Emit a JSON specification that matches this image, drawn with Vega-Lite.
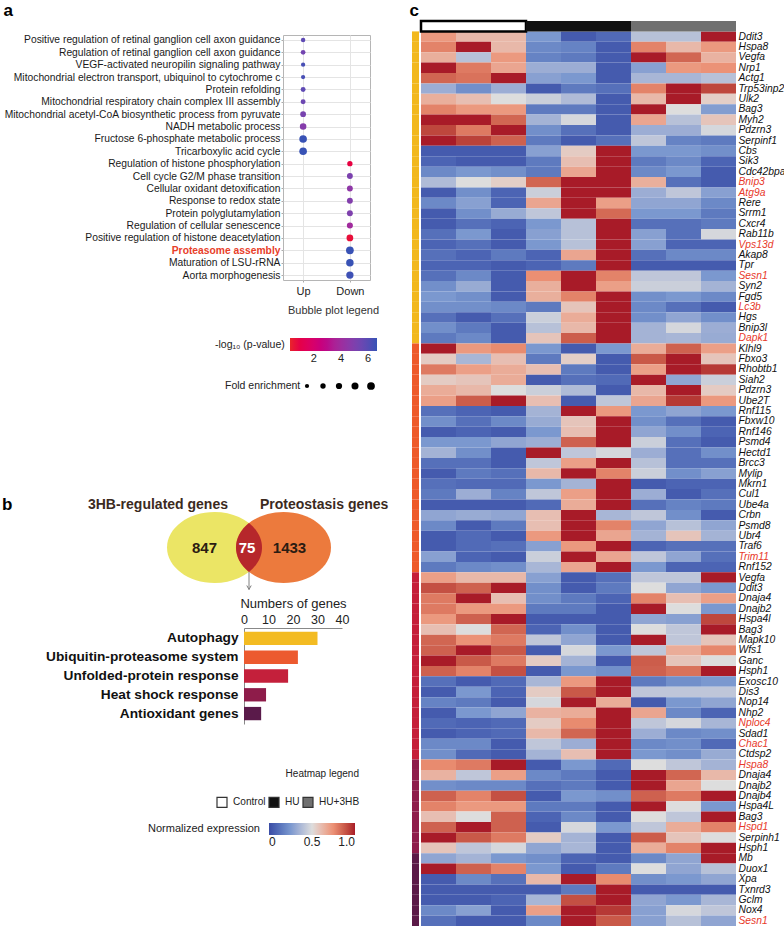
{
"$schema": "https://vega.github.io/schema/vega-lite/v6.json",
"padding": {"left": 2, "top": 0, "right": 0, "bottom": 0},
"autosize": {"type": "pad"},
"background": "white",
"config": {
  "font": "Liberation Sans",
  "view": {"stroke": null},
  "axis": {"labelFont": "Liberation Sans", "titleFont": "Liberation Sans"},
  "legend": {"labelFont": "Liberation Sans", "titleFont": "Liberation Sans"},
  "title": {"font": "Liberation Sans"}
},
"datasets": {
  "bubble": [
    {"term": "Positive regulation of retinal ganglion cell axon guidance", "dir": "Up", "p": 5.8, "fe": 12},
    {"term": "Regulation of retinal ganglion cell axon guidance", "dir": "Up", "p": 5.3, "fe": 14},
    {"term": "VEGF-activated neuropilin signaling pathway", "dir": "Up", "p": 6.3, "fe": 10},
    {"term": "Mitochondrial electron transport, ubiquinol to cytochrome c", "dir": "Up", "p": 6.3, "fe": 10},
    {"term": "Protein refolding", "dir": "Up", "p": 5.8, "fe": 16},
    {"term": "Mitochondrial respiratory chain complex III assembly", "dir": "Up", "p": 5.5, "fe": 16},
    {"term": "Mitochondrial acetyl-CoA biosynthetic process from pyruvate", "dir": "Up", "p": 5.2, "fe": 24},
    {"term": "NADH metabolic process", "dir": "Up", "p": 4.8, "fe": 34},
    {"term": "Fructose 6-phosphate metabolic process", "dir": "Up", "p": 6.6, "fe": 48},
    {"term": "Tricarboxylic acid cycle", "dir": "Up", "p": 6.6, "fe": 48},
    {"term": "Regulation of histone phosphorylation", "dir": "Down", "p": 0.8, "fe": 20},
    {"term": "Cell cycle G2/M phase transition", "dir": "Down", "p": 5.1, "fe": 26},
    {"term": "Cellular oxidant detoxification", "dir": "Down", "p": 4.5, "fe": 26},
    {"term": "Response to redox state", "dir": "Down", "p": 4.9, "fe": 26},
    {"term": "Protein polyglutamylation", "dir": "Down", "p": 5.0, "fe": 26},
    {"term": "Regulation of cellular senescence", "dir": "Down", "p": 3.9, "fe": 28},
    {"term": "Positive regulation of histone deacetylation", "dir": "Down", "p": 0.6, "fe": 36},
    {"term": "Proteasome assembly", "dir": "Down", "p": 6.6, "fe": 50},
    {"term": "Maturation of LSU-rRNA", "dir": "Down", "p": 6.6, "fe": 46},
    {"term": "Aorta morphogenesis", "dir": "Down", "p": 6.5, "fe": 44}
  ],
  "venn": [
    {"set": "A", "n": 847, "name": "3HB-regulated genes"},
    {"set": "AB", "n": 75, "name": ""},
    {"set": "B", "n": 1433, "name": "Proteostasis genes"}
  ],
  "bars": [
    {"cat": "Autophagy", "n": 30},
    {"cat": "Ubiquitin-proteasome system", "n": 22},
    {"cat": "Unfolded-protein response", "n": 18},
    {"cat": "Heat shock response", "n": 9},
    {"cat": "Antioxidant genes", "n": 7}
  ],
  "annot": [
    {"g": "00", "cond": "Control"},
    {"g": "00", "cond": "HU"},
    {"g": "00", "cond": "HU+3HB"}
  ],
  "genes": [
    {"g":"01Ddit3","grp":"Autophagy"},{"g":"02Hspa8","grp":"Autophagy"},{"g":"03Vegfa","grp":"Autophagy"},{"g":"04Nrp1","grp":"Autophagy"},{"g":"05Actg1","grp":"Autophagy"},{"g":"06Trp53inp2","grp":"Autophagy"},{"g":"07Ulk2","grp":"Autophagy"},{"g":"08Bag3","grp":"Autophagy"},{"g":"09Myh2","grp":"Autophagy"},{"g":"10Pdzrn3","grp":"Autophagy"},
    {"g":"11Serpinf1","grp":"Autophagy"},{"g":"12Cbs","grp":"Autophagy"},{"g":"13Sik3","grp":"Autophagy"},{"g":"14Cdc42bpa","grp":"Autophagy"},{"g":"15Bnip3","grp":"Autophagy"},{"g":"16Atg9a","grp":"Autophagy"},{"g":"17Rere","grp":"Autophagy"},{"g":"18Srrm1","grp":"Autophagy"},{"g":"19Cxcr4","grp":"Autophagy"},{"g":"20Rab11b","grp":"Autophagy"},
    {"g":"21Vps13d","grp":"Autophagy"},{"g":"22Akap8","grp":"Autophagy"},{"g":"23Tpr","grp":"Autophagy"},{"g":"24Sesn1","grp":"Autophagy"},{"g":"25Syn2","grp":"Autophagy"},{"g":"26Fgd5","grp":"Autophagy"},{"g":"27Lc3b","grp":"Autophagy"},{"g":"28Hgs","grp":"Autophagy"},{"g":"29Bnip3l","grp":"Autophagy"},{"g":"30Dapk1","grp":"Autophagy"},
    {"g":"31Klhl9","grp":"UPS"},{"g":"32Fbxo3","grp":"UPS"},{"g":"33Rhobtb1","grp":"UPS"},{"g":"34Siah2","grp":"UPS"},{"g":"35Pdzrn3","grp":"UPS"},{"g":"36Ube2T","grp":"UPS"},{"g":"37Rnf115","grp":"UPS"},{"g":"38Fbxw10","grp":"UPS"},{"g":"39Rnf146","grp":"UPS"},{"g":"40Psmd4","grp":"UPS"},
    {"g":"41Hectd1","grp":"UPS"},{"g":"42Brcc3","grp":"UPS"},{"g":"43Mylip","grp":"UPS"},{"g":"44Mkrn1","grp":"UPS"},{"g":"45Cul1","grp":"UPS"},{"g":"46Ube4a","grp":"UPS"},{"g":"47Crbn","grp":"UPS"},{"g":"48Psmd8","grp":"UPS"},{"g":"49Ubr4","grp":"UPS"},{"g":"50Traf6","grp":"UPS"},
    {"g":"51Trim11","grp":"UPS"},{"g":"52Rnf152","grp":"UPS"},{"g":"53Vegfa","grp":"UPR"},{"g":"54Ddit3","grp":"UPR"},{"g":"55Dnaja4","grp":"UPR"},{"g":"56Dnajb2","grp":"UPR"},{"g":"57Hspa4l","grp":"UPR"},{"g":"58Bag3","grp":"UPR"},{"g":"59Mapk10","grp":"UPR"},{"g":"60Wfs1","grp":"UPR"},
    {"g":"61Ganc","grp":"UPR"},{"g":"62Hsph1","grp":"UPR"},{"g":"63Exosc10","grp":"UPR"},{"g":"64Dis3","grp":"UPR"},{"g":"65Nop14","grp":"UPR"},{"g":"66Nhp2","grp":"UPR"},{"g":"67Nploc4","grp":"UPR"},{"g":"68Sdad1","grp":"UPR"},{"g":"69Chac1","grp":"UPR"},{"g":"70Ctdsp2","grp":"UPR"},
    {"g":"71Hspa8","grp":"Heat shock"},{"g":"72Dnaja4","grp":"Heat shock"},{"g":"73Dnajb2","grp":"Heat shock"},{"g":"74Dnajb4","grp":"Heat shock"},{"g":"75Hspa4L","grp":"Heat shock"},{"g":"76Bag3","grp":"Heat shock"},{"g":"77Hspd1","grp":"Heat shock"},{"g":"78Serpinh1","grp":"Heat shock"},{"g":"79Hsph1","grp":"Heat shock"},
    {"g":"80Mb","grp":"Antioxidant"},{"g":"81Duox1","grp":"Antioxidant"},{"g":"82Xpa","grp":"Antioxidant"},{"g":"83Txnrd3","grp":"Antioxidant"},{"g":"84Gclm","grp":"Antioxidant"},{"g":"85Nox4","grp":"Antioxidant"},{"g":"86Sesn1","grp":"Antioxidant"}
  ],
  "cells": [
{"g":"01Ddit3","s":"C1","v":0.72},{"g":"01Ddit3","s":"C2","v":0.62},{"g":"01Ddit3","s":"C3","v":0.62},{"g":"01Ddit3","s":"H1","v":0.25},{"g":"01Ddit3","s":"H2","v":0.05},{"g":"01Ddit3","s":"H3","v":0.1},{"g":"01Ddit3","s":"B1","v":0.4},{"g":"01Ddit3","s":"B2","v":0.4},{"g":"01Ddit3","s":"B3","v":1},
{"g":"02Hspa8","s":"C1","v":0.78},{"g":"02Hspa8","s":"C2","v":1},{"g":"02Hspa8","s":"C3","v":0.62},{"g":"02Hspa8","s":"H1","v":0.2},{"g":"02Hspa8","s":"H2","v":0.18},{"g":"02Hspa8","s":"H3","v":0.05},{"g":"02Hspa8","s":"B1","v":0.78},{"g":"02Hspa8","s":"B2","v":0.62},{"g":"02Hspa8","s":"B3","v":0.72},
{"g":"03Vegfa","s":"C1","v":0.65},{"g":"03Vegfa","s":"C2","v":0.4},{"g":"03Vegfa","s":"C3","v":0.72},{"g":"03Vegfa","s":"H1","v":0.18},{"g":"03Vegfa","s":"H2","v":0.15},{"g":"03Vegfa","s":"H3","v":0.05},{"g":"03Vegfa","s":"B1","v":1},{"g":"03Vegfa","s":"B2","v":0.85},{"g":"03Vegfa","s":"B3","v":0.64},
{"g":"04Nrp1","s":"C1","v":1},{"g":"04Nrp1","s":"C2","v":0.8},{"g":"04Nrp1","s":"C3","v":0.68},{"g":"04Nrp1","s":"H1","v":0.33},{"g":"04Nrp1","s":"H2","v":0.33},{"g":"04Nrp1","s":"H3","v":0.05},{"g":"04Nrp1","s":"B1","v":0.28},{"g":"04Nrp1","s":"B2","v":0.72},{"g":"04Nrp1","s":"B3","v":0.74},
{"g":"05Actg1","s":"C1","v":0.85},{"g":"05Actg1","s":"C2","v":0.82},{"g":"05Actg1","s":"C3","v":1},{"g":"05Actg1","s":"H1","v":0.28},{"g":"05Actg1","s":"H2","v":0.25},{"g":"05Actg1","s":"H3","v":0.05},{"g":"05Actg1","s":"B1","v":0.36},{"g":"05Actg1","s":"B2","v":0.36},{"g":"05Actg1","s":"B3","v":0.4},
{"g":"06Trp53inp2","s":"C1","v":0.33},{"g":"06Trp53inp2","s":"C2","v":0.22},{"g":"06Trp53inp2","s":"C3","v":0.33},{"g":"06Trp53inp2","s":"H1","v":0.05},{"g":"06Trp53inp2","s":"H2","v":0.15},{"g":"06Trp53inp2","s":"H3","v":0.12},{"g":"06Trp53inp2","s":"B1","v":0.78},{"g":"06Trp53inp2","s":"B2","v":1},{"g":"06Trp53inp2","s":"B3","v":0.92},
{"g":"07Ulk2","s":"C1","v":0.65},{"g":"07Ulk2","s":"C2","v":0.6},{"g":"07Ulk2","s":"C3","v":0.5},{"g":"07Ulk2","s":"H1","v":0.45},{"g":"07Ulk2","s":"H2","v":0.38},{"g":"07Ulk2","s":"H3","v":0.05},{"g":"07Ulk2","s":"B1","v":0.62},{"g":"07Ulk2","s":"B2","v":1},{"g":"07Ulk2","s":"B3","v":0.55},
{"g":"08Bag3","s":"C1","v":0.78},{"g":"08Bag3","s":"C2","v":0.72},{"g":"08Bag3","s":"C3","v":0.72},{"g":"08Bag3","s":"H1","v":0.15},{"g":"08Bag3","s":"H2","v":0.15},{"g":"08Bag3","s":"H3","v":0.05},{"g":"08Bag3","s":"B1","v":1},{"g":"08Bag3","s":"B2","v":0.5},{"g":"08Bag3","s":"B3","v":0.27},
{"g":"09Myh2","s":"C1","v":1},{"g":"09Myh2","s":"C2","v":1},{"g":"09Myh2","s":"C3","v":0.85},{"g":"09Myh2","s":"H1","v":0.35},{"g":"09Myh2","s":"H2","v":0.48},{"g":"09Myh2","s":"H3","v":0.05},{"g":"09Myh2","s":"B1","v":0.68},{"g":"09Myh2","s":"B2","v":0.4},{"g":"09Myh2","s":"B3","v":0.58},
{"g":"10Pdzrn3","s":"C1","v":0.92},{"g":"10Pdzrn3","s":"C2","v":0.8},{"g":"10Pdzrn3","s":"C3","v":1},{"g":"10Pdzrn3","s":"H1","v":0.22},{"g":"10Pdzrn3","s":"H2","v":0.12},{"g":"10Pdzrn3","s":"H3","v":0.05},{"g":"10Pdzrn3","s":"B1","v":0.33},{"g":"10Pdzrn3","s":"B2","v":0.33},{"g":"10Pdzrn3","s":"B3","v":0.48},
{"g":"11Serpinf1","s":"C1","v":1},{"g":"11Serpinf1","s":"C2","v":0.93},{"g":"11Serpinf1","s":"C3","v":0.86},{"g":"11Serpinf1","s":"H1","v":0.15},{"g":"11Serpinf1","s":"H2","v":0.05},{"g":"11Serpinf1","s":"H3","v":0.12},{"g":"11Serpinf1","s":"B1","v":0.42},{"g":"11Serpinf1","s":"B2","v":0.18},{"g":"11Serpinf1","s":"B3","v":0.15},
{"g":"12Cbs","s":"C1","v":0.05},{"g":"12Cbs","s":"C2","v":0.05},{"g":"12Cbs","s":"C3","v":0.05},{"g":"12Cbs","s":"H1","v":0.28},{"g":"12Cbs","s":"H2","v":0.56},{"g":"12Cbs","s":"H3","v":1},{"g":"12Cbs","s":"B1","v":0.25},{"g":"12Cbs","s":"B2","v":0.25},{"g":"12Cbs","s":"B3","v":0.22},
{"g":"13Sik3","s":"C1","v":0.08},{"g":"13Sik3","s":"C2","v":0.05},{"g":"13Sik3","s":"C3","v":0.05},{"g":"13Sik3","s":"H1","v":0.15},{"g":"13Sik3","s":"H2","v":0.6},{"g":"13Sik3","s":"H3","v":1},{"g":"13Sik3","s":"B1","v":0.15},{"g":"13Sik3","s":"B2","v":0.2},{"g":"13Sik3","s":"B3","v":0.08},
{"g":"14Cdc42bpa","s":"C1","v":0.2},{"g":"14Cdc42bpa","s":"C2","v":0.25},{"g":"14Cdc42bpa","s":"C3","v":0.22},{"g":"14Cdc42bpa","s":"H1","v":0.15},{"g":"14Cdc42bpa","s":"H2","v":0.68},{"g":"14Cdc42bpa","s":"H3","v":1},{"g":"14Cdc42bpa","s":"B1","v":0.2},{"g":"14Cdc42bpa","s":"B2","v":0.25},{"g":"14Cdc42bpa","s":"B3","v":0.05},
{"g":"15Bnip3","s":"C1","v":0.38},{"g":"15Bnip3","s":"C2","v":0.5},{"g":"15Bnip3","s":"C3","v":0.55},{"g":"15Bnip3","s":"H1","v":0.85},{"g":"15Bnip3","s":"H2","v":1},{"g":"15Bnip3","s":"H3","v":1},{"g":"15Bnip3","s":"B1","v":0.65},{"g":"15Bnip3","s":"B2","v":0.12},{"g":"15Bnip3","s":"B3","v":0.05},
{"g":"16Atg9a","s":"C1","v":0.05},{"g":"16Atg9a","s":"C2","v":0.22},{"g":"16Atg9a","s":"C3","v":0.08},{"g":"16Atg9a","s":"H1","v":0.45},{"g":"16Atg9a","s":"H2","v":1},{"g":"16Atg9a","s":"H3","v":1},{"g":"16Atg9a","s":"B1","v":0.33},{"g":"16Atg9a","s":"B2","v":0.42},{"g":"16Atg9a","s":"B3","v":0.28},
{"g":"17Rere","s":"C1","v":0.2},{"g":"17Rere","s":"C2","v":0.28},{"g":"17Rere","s":"C3","v":0.08},{"g":"17Rere","s":"H1","v":0.68},{"g":"17Rere","s":"H2","v":1},{"g":"17Rere","s":"H3","v":0.7},{"g":"17Rere","s":"B1","v":0.3},{"g":"17Rere","s":"B2","v":0.3},{"g":"17Rere","s":"B3","v":0.2},
{"g":"18Srrm1","s":"C1","v":0.05},{"g":"18Srrm1","s":"C2","v":0.22},{"g":"18Srrm1","s":"C3","v":0.32},{"g":"18Srrm1","s":"H1","v":0.42},{"g":"18Srrm1","s":"H2","v":1},{"g":"18Srrm1","s":"H3","v":0.84},{"g":"18Srrm1","s":"B1","v":0.25},{"g":"18Srrm1","s":"B2","v":0.25},{"g":"18Srrm1","s":"B3","v":0.15},
{"g":"19Cxcr4","s":"C1","v":0.05},{"g":"19Cxcr4","s":"C2","v":0.12},{"g":"19Cxcr4","s":"C3","v":0.08},{"g":"19Cxcr4","s":"H1","v":0.25},{"g":"19Cxcr4","s":"H2","v":0.4},{"g":"19Cxcr4","s":"H3","v":1},{"g":"19Cxcr4","s":"B1","v":0.12},{"g":"19Cxcr4","s":"B2","v":0.12},{"g":"19Cxcr4","s":"B3","v":0.15},
{"g":"20Rab11b","s":"C1","v":0.12},{"g":"20Rab11b","s":"C2","v":0.25},{"g":"20Rab11b","s":"C3","v":0.05},{"g":"20Rab11b","s":"H1","v":0.28},{"g":"20Rab11b","s":"H2","v":0.4},{"g":"20Rab11b","s":"H3","v":1},{"g":"20Rab11b","s":"B1","v":0.28},{"g":"20Rab11b","s":"B2","v":0.12},{"g":"20Rab11b","s":"B3","v":0.48},
{"g":"21Vps13d","s":"C1","v":0.08},{"g":"21Vps13d","s":"C2","v":0.12},{"g":"21Vps13d","s":"C3","v":0.05},{"g":"21Vps13d","s":"H1","v":0.25},{"g":"21Vps13d","s":"H2","v":0.4},{"g":"21Vps13d","s":"H3","v":1},{"g":"21Vps13d","s":"B1","v":0.28},{"g":"21Vps13d","s":"B2","v":0.08},{"g":"21Vps13d","s":"B3","v":0.08},
{"g":"22Akap8","s":"C1","v":0.12},{"g":"22Akap8","s":"C2","v":0.08},{"g":"22Akap8","s":"C3","v":0.15},{"g":"22Akap8","s":"H1","v":0.08},{"g":"22Akap8","s":"H2","v":0.68},{"g":"22Akap8","s":"H3","v":1},{"g":"22Akap8","s":"B1","v":0.12},{"g":"22Akap8","s":"B2","v":0.2},{"g":"22Akap8","s":"B3","v":0.2},
{"g":"23Tpr","s":"C1","v":0.08},{"g":"23Tpr","s":"C2","v":0.08},{"g":"23Tpr","s":"C3","v":0.05},{"g":"23Tpr","s":"H1","v":0.08},{"g":"23Tpr","s":"H2","v":0.15},{"g":"23Tpr","s":"H3","v":1},{"g":"23Tpr","s":"B1","v":0.05},{"g":"23Tpr","s":"B2","v":0.05},{"g":"23Tpr","s":"B3","v":0.05},
{"g":"24Sesn1","s":"C1","v":0.12},{"g":"24Sesn1","s":"C2","v":0.2},{"g":"24Sesn1","s":"C3","v":0.05},{"g":"24Sesn1","s":"H1","v":0.75},{"g":"24Sesn1","s":"H2","v":1},{"g":"24Sesn1","s":"H3","v":0.78},{"g":"24Sesn1","s":"B1","v":0.42},{"g":"24Sesn1","s":"B2","v":0.42},{"g":"24Sesn1","s":"B3","v":0.25},
{"g":"25Syn2","s":"C1","v":0.22},{"g":"25Syn2","s":"C2","v":0.32},{"g":"25Syn2","s":"C3","v":0.05},{"g":"25Syn2","s":"H1","v":0.65},{"g":"25Syn2","s":"H2","v":1},{"g":"25Syn2","s":"H3","v":0.7},{"g":"25Syn2","s":"B1","v":0.45},{"g":"25Syn2","s":"B2","v":0.45},{"g":"25Syn2","s":"B3","v":0.35},
{"g":"26Fgd5","s":"C1","v":0.25},{"g":"26Fgd5","s":"C2","v":0.22},{"g":"26Fgd5","s":"C3","v":0.05},{"g":"26Fgd5","s":"H1","v":0.65},{"g":"26Fgd5","s":"H2","v":0.78},{"g":"26Fgd5","s":"H3","v":1},{"g":"26Fgd5","s":"B1","v":0.22},{"g":"26Fgd5","s":"B2","v":0.25},{"g":"26Fgd5","s":"B3","v":0.2},
{"g":"27Lc3b","s":"C1","v":0.22},{"g":"27Lc3b","s":"C2","v":0.22},{"g":"27Lc3b","s":"C3","v":0.2},{"g":"27Lc3b","s":"H1","v":0.15},{"g":"27Lc3b","s":"H2","v":0.58},{"g":"27Lc3b","s":"H3","v":1},{"g":"27Lc3b","s":"B1","v":0.2},{"g":"27Lc3b","s":"B2","v":0.12},{"g":"27Lc3b","s":"B3","v":0.05},
{"g":"28Hgs","s":"C1","v":0.12},{"g":"28Hgs","s":"C2","v":0.05},{"g":"28Hgs","s":"C3","v":0.12},{"g":"28Hgs","s":"H1","v":0.45},{"g":"28Hgs","s":"H2","v":0.66},{"g":"28Hgs","s":"H3","v":1},{"g":"28Hgs","s":"B1","v":0.22},{"g":"28Hgs","s":"B2","v":0.3},{"g":"28Hgs","s":"B3","v":0.22},
{"g":"29Bnip3l","s":"C1","v":0.22},{"g":"29Bnip3l","s":"C2","v":0.15},{"g":"29Bnip3l","s":"C3","v":0.05},{"g":"29Bnip3l","s":"H1","v":0.4},{"g":"29Bnip3l","s":"H2","v":0.62},{"g":"29Bnip3l","s":"H3","v":1},{"g":"29Bnip3l","s":"B1","v":0.35},{"g":"29Bnip3l","s":"B2","v":0.48},{"g":"29Bnip3l","s":"B3","v":0.33},
{"g":"30Dapk1","s":"C1","v":0.15},{"g":"30Dapk1","s":"C2","v":0.2},{"g":"30Dapk1","s":"C3","v":0.05},{"g":"30Dapk1","s":"H1","v":0.58},{"g":"30Dapk1","s":"H2","v":0.87},{"g":"30Dapk1","s":"H3","v":1},{"g":"30Dapk1","s":"B1","v":0.35},{"g":"30Dapk1","s":"B2","v":0.36},{"g":"30Dapk1","s":"B3","v":0.32},
{"g":"31Klhl9","s":"C1","v":1},{"g":"31Klhl9","s":"C2","v":0.72},{"g":"31Klhl9","s":"C3","v":0.76},{"g":"31Klhl9","s":"H1","v":0.25},{"g":"31Klhl9","s":"H2","v":0.05},{"g":"31Klhl9","s":"H3","v":0.25},{"g":"31Klhl9","s":"B1","v":0.66},{"g":"31Klhl9","s":"B2","v":0.86},{"g":"31Klhl9","s":"B3","v":0.7},
{"g":"32Fbxo3","s":"C1","v":0.56},{"g":"32Fbxo3","s":"C2","v":0.36},{"g":"32Fbxo3","s":"C3","v":0.6},{"g":"32Fbxo3","s":"H1","v":0.15},{"g":"32Fbxo3","s":"H2","v":0.55},{"g":"32Fbxo3","s":"H3","v":0.05},{"g":"32Fbxo3","s":"B1","v":0.88},{"g":"32Fbxo3","s":"B2","v":1},{"g":"32Fbxo3","s":"B3","v":0.58},
{"g":"33Rhobtb1","s":"C1","v":0.8},{"g":"33Rhobtb1","s":"C2","v":0.7},{"g":"33Rhobtb1","s":"C3","v":0.66},{"g":"33Rhobtb1","s":"H1","v":0.6},{"g":"33Rhobtb1","s":"H2","v":0.15},{"g":"33Rhobtb1","s":"H3","v":0.05},{"g":"33Rhobtb1","s":"B1","v":0.7},{"g":"33Rhobtb1","s":"B2","v":1},{"g":"33Rhobtb1","s":"B3","v":0.95},
{"g":"34Siah2","s":"C1","v":0.56},{"g":"34Siah2","s":"C2","v":0.58},{"g":"34Siah2","s":"C3","v":0.66},{"g":"34Siah2","s":"H1","v":0.05},{"g":"34Siah2","s":"H2","v":0.12},{"g":"34Siah2","s":"H3","v":0.1},{"g":"34Siah2","s":"B1","v":1},{"g":"34Siah2","s":"B2","v":0.3},{"g":"34Siah2","s":"B3","v":0.45},
{"g":"35Pdzrn3","s":"C1","v":0.66},{"g":"35Pdzrn3","s":"C2","v":0.62},{"g":"35Pdzrn3","s":"C3","v":0.5},{"g":"35Pdzrn3","s":"H1","v":0.45},{"g":"35Pdzrn3","s":"H2","v":0.38},{"g":"35Pdzrn3","s":"H3","v":0.05},{"g":"35Pdzrn3","s":"B1","v":0.62},{"g":"35Pdzrn3","s":"B2","v":1},{"g":"35Pdzrn3","s":"B3","v":0.56},
{"g":"36Ube2T","s":"C1","v":0.7},{"g":"36Ube2T","s":"C2","v":0.87},{"g":"36Ube2T","s":"C3","v":1},{"g":"36Ube2T","s":"H1","v":0.6},{"g":"36Ube2T","s":"H2","v":0.05},{"g":"36Ube2T","s":"H3","v":0.42},{"g":"36Ube2T","s":"B1","v":0.68},{"g":"36Ube2T","s":"B2","v":0.95},{"g":"36Ube2T","s":"B3","v":0.72},
{"g":"37Rnf115","s":"C1","v":0.12},{"g":"37Rnf115","s":"C2","v":0.08},{"g":"37Rnf115","s":"C3","v":0.05},{"g":"37Rnf115","s":"H1","v":0.35},{"g":"37Rnf115","s":"H2","v":1},{"g":"37Rnf115","s":"H3","v":0.72},{"g":"37Rnf115","s":"B1","v":0.25},{"g":"37Rnf115","s":"B2","v":0.3},{"g":"37Rnf115","s":"B3","v":0.25},
{"g":"38Fbxw10","s":"C1","v":0.22},{"g":"38Fbxw10","s":"C2","v":0.12},{"g":"38Fbxw10","s":"C3","v":0.2},{"g":"38Fbxw10","s":"H1","v":0.32},{"g":"38Fbxw10","s":"H2","v":0.58},{"g":"38Fbxw10","s":"H3","v":1},{"g":"38Fbxw10","s":"B1","v":0.22},{"g":"38Fbxw10","s":"B2","v":0.12},{"g":"38Fbxw10","s":"B3","v":0.05},
{"g":"39Rnf146","s":"C1","v":0.05},{"g":"39Rnf146","s":"C2","v":0.08},{"g":"39Rnf146","s":"C3","v":0.05},{"g":"39Rnf146","s":"H1","v":0.25},{"g":"39Rnf146","s":"H2","v":0.6},{"g":"39Rnf146","s":"H3","v":1},{"g":"39Rnf146","s":"B1","v":0.3},{"g":"39Rnf146","s":"B2","v":0.22},{"g":"39Rnf146","s":"B3","v":0.08},
{"g":"40Psmd4","s":"C1","v":0.25},{"g":"40Psmd4","s":"C2","v":0.25},{"g":"40Psmd4","s":"C3","v":0.3},{"g":"40Psmd4","s":"H1","v":0.33},{"g":"40Psmd4","s":"H2","v":0.86},{"g":"40Psmd4","s":"H3","v":1},{"g":"40Psmd4","s":"B1","v":0.45},{"g":"40Psmd4","s":"B2","v":0.12},{"g":"40Psmd4","s":"B3","v":0.05},
{"g":"41Hectd1","s":"C1","v":0.35},{"g":"41Hectd1","s":"C2","v":0.22},{"g":"41Hectd1","s":"C3","v":0.05},{"g":"41Hectd1","s":"H1","v":1},{"g":"41Hectd1","s":"H2","v":0.42},{"g":"41Hectd1","s":"H3","v":0.48},{"g":"41Hectd1","s":"B1","v":0.33},{"g":"41Hectd1","s":"B2","v":0.12},{"g":"41Hectd1","s":"B3","v":0.22},
{"g":"42Brcc3","s":"C1","v":0.12},{"g":"42Brcc3","s":"C2","v":0.12},{"g":"42Brcc3","s":"C3","v":0.05},{"g":"42Brcc3","s":"H1","v":0.42},{"g":"42Brcc3","s":"H2","v":0.7},{"g":"42Brcc3","s":"H3","v":1},{"g":"42Brcc3","s":"B1","v":0.4},{"g":"42Brcc3","s":"B2","v":0.12},{"g":"42Brcc3","s":"B3","v":0.12},
{"g":"43Mylip","s":"C1","v":0.05},{"g":"43Mylip","s":"C2","v":0.15},{"g":"43Mylip","s":"C3","v":0.12},{"g":"43Mylip","s":"H1","v":0.62},{"g":"43Mylip","s":"H2","v":1},{"g":"43Mylip","s":"H3","v":0.78},{"g":"43Mylip","s":"B1","v":0.45},{"g":"43Mylip","s":"B2","v":0.22},{"g":"43Mylip","s":"B3","v":0.28},
{"g":"44Mkrn1","s":"C1","v":0.12},{"g":"44Mkrn1","s":"C2","v":0.1},{"g":"44Mkrn1","s":"C3","v":0.1},{"g":"44Mkrn1","s":"H1","v":0.25},{"g":"44Mkrn1","s":"H2","v":0.35},{"g":"44Mkrn1","s":"H3","v":1},{"g":"44Mkrn1","s":"B1","v":0.05},{"g":"44Mkrn1","s":"B2","v":0.08},{"g":"44Mkrn1","s":"B3","v":0.08},
{"g":"45Cul1","s":"C1","v":0.15},{"g":"45Cul1","s":"C2","v":0.33},{"g":"45Cul1","s":"C3","v":0.18},{"g":"45Cul1","s":"H1","v":0.42},{"g":"45Cul1","s":"H2","v":0.7},{"g":"45Cul1","s":"H3","v":1},{"g":"45Cul1","s":"B1","v":0.33},{"g":"45Cul1","s":"B2","v":0.05},{"g":"45Cul1","s":"B3","v":0.12},
{"g":"46Ube4a","s":"C1","v":0.05},{"g":"46Ube4a","s":"C2","v":0.05},{"g":"46Ube4a","s":"C3","v":0.05},{"g":"46Ube4a","s":"H1","v":0.1},{"g":"46Ube4a","s":"H2","v":0.66},{"g":"46Ube4a","s":"H3","v":1},{"g":"46Ube4a","s":"B1","v":0.12},{"g":"46Ube4a","s":"B2","v":0.18},{"g":"46Ube4a","s":"B3","v":0.15},
{"g":"47Crbn","s":"C1","v":0.3},{"g":"47Crbn","s":"C2","v":0.32},{"g":"47Crbn","s":"C3","v":0.3},{"g":"47Crbn","s":"H1","v":0.6},{"g":"47Crbn","s":"H2","v":1},{"g":"47Crbn","s":"H3","v":0.36},{"g":"47Crbn","s":"B1","v":0.42},{"g":"47Crbn","s":"B2","v":0.22},{"g":"47Crbn","s":"B3","v":0.05},
{"g":"48Psmd8","s":"C1","v":0.2},{"g":"48Psmd8","s":"C2","v":0.05},{"g":"48Psmd8","s":"C3","v":0.15},{"g":"48Psmd8","s":"H1","v":0.6},{"g":"48Psmd8","s":"H2","v":1},{"g":"48Psmd8","s":"H3","v":0.78},{"g":"48Psmd8","s":"B1","v":0.3},{"g":"48Psmd8","s":"B2","v":0.4},{"g":"48Psmd8","s":"B3","v":0.3},
{"g":"49Ubr4","s":"C1","v":0.05},{"g":"49Ubr4","s":"C2","v":0.1},{"g":"49Ubr4","s":"C3","v":0.05},{"g":"49Ubr4","s":"H1","v":0.72},{"g":"49Ubr4","s":"H2","v":1},{"g":"49Ubr4","s":"H3","v":0.68},{"g":"49Ubr4","s":"B1","v":0.35},{"g":"49Ubr4","s":"B2","v":0.58},{"g":"49Ubr4","s":"B3","v":0.35},
{"g":"50Traf6","s":"C1","v":0.05},{"g":"50Traf6","s":"C2","v":0.1},{"g":"50Traf6","s":"C3","v":0.12},{"g":"50Traf6","s":"H1","v":0.28},{"g":"50Traf6","s":"H2","v":0.72},{"g":"50Traf6","s":"H3","v":1},{"g":"50Traf6","s":"B1","v":0.08},{"g":"50Traf6","s":"B2","v":0.12},{"g":"50Traf6","s":"B3","v":0.12},
{"g":"51Trim11","s":"C1","v":0.28},{"g":"51Trim11","s":"C2","v":0.08},{"g":"51Trim11","s":"C3","v":0.05},{"g":"51Trim11","s":"H1","v":0.45},{"g":"51Trim11","s":"H2","v":1},{"g":"51Trim11","s":"H3","v":0.68},{"g":"51Trim11","s":"B1","v":0.42},{"g":"51Trim11","s":"B2","v":0.3},{"g":"51Trim11","s":"B3","v":0.12},
{"g":"52Rnf152","s":"C1","v":0.15},{"g":"52Rnf152","s":"C2","v":0.2},{"g":"52Rnf152","s":"C3","v":0.22},{"g":"52Rnf152","s":"H1","v":0.36},{"g":"52Rnf152","s":"H2","v":0.68},{"g":"52Rnf152","s":"H3","v":1},{"g":"52Rnf152","s":"B1","v":0.25},{"g":"52Rnf152","s":"B2","v":0.08},{"g":"52Rnf152","s":"B3","v":0.08},
{"g":"53Vegfa","s":"C1","v":0.7},{"g":"53Vegfa","s":"C2","v":0.62},{"g":"53Vegfa","s":"C3","v":0.62},{"g":"53Vegfa","s":"H1","v":0.28},{"g":"53Vegfa","s":"H2","v":0.05},{"g":"53Vegfa","s":"H3","v":0.12},{"g":"53Vegfa","s":"B1","v":0.42},{"g":"53Vegfa","s":"B2","v":0.42},{"g":"53Vegfa","s":"B3","v":1},
{"g":"54Ddit3","s":"C1","v":0.9},{"g":"54Ddit3","s":"C2","v":0.86},{"g":"54Ddit3","s":"C3","v":1},{"g":"54Ddit3","s":"H1","v":0.22},{"g":"54Ddit3","s":"H2","v":0.05},{"g":"54Ddit3","s":"H3","v":0.15},{"g":"54Ddit3","s":"B1","v":0.5},{"g":"54Ddit3","s":"B2","v":0.3},{"g":"54Ddit3","s":"B3","v":0.25},
{"g":"55Dnaja4","s":"C1","v":0.8},{"g":"55Dnaja4","s":"C2","v":1},{"g":"55Dnaja4","s":"C3","v":0.6},{"g":"55Dnaja4","s":"H1","v":0.22},{"g":"55Dnaja4","s":"H2","v":0.15},{"g":"55Dnaja4","s":"H3","v":0.08},{"g":"55Dnaja4","s":"B1","v":0.78},{"g":"55Dnaja4","s":"B2","v":0.6},{"g":"55Dnaja4","s":"B3","v":0.7},
{"g":"56Dnajb2","s":"C1","v":0.8},{"g":"56Dnajb2","s":"C2","v":0.72},{"g":"56Dnajb2","s":"C3","v":0.72},{"g":"56Dnajb2","s":"H1","v":0.15},{"g":"56Dnajb2","s":"H2","v":0.15},{"g":"56Dnajb2","s":"H3","v":0.05},{"g":"56Dnajb2","s":"B1","v":1},{"g":"56Dnajb2","s":"B2","v":0.5},{"g":"56Dnajb2","s":"B3","v":0.25},
{"g":"57Hspa4l","s":"C1","v":0.72},{"g":"57Hspa4l","s":"C2","v":0.86},{"g":"57Hspa4l","s":"C3","v":1},{"g":"57Hspa4l","s":"H1","v":0.05},{"g":"57Hspa4l","s":"H2","v":0.05},{"g":"57Hspa4l","s":"H3","v":0.05},{"g":"57Hspa4l","s":"B1","v":0.3},{"g":"57Hspa4l","s":"B2","v":0.28},{"g":"57Hspa4l","s":"B3","v":0.92},
{"g":"58Bag3","s":"C1","v":0.6},{"g":"58Bag3","s":"C2","v":0.5},{"g":"58Bag3","s":"C3","v":0.85},{"g":"58Bag3","s":"H1","v":0.08},{"g":"58Bag3","s":"H2","v":0.22},{"g":"58Bag3","s":"H3","v":0.05},{"g":"58Bag3","s":"B1","v":0.5},{"g":"58Bag3","s":"B2","v":0.42},{"g":"58Bag3","s":"B3","v":1},
{"g":"59Mapk10","s":"C1","v":0.85},{"g":"59Mapk10","s":"C2","v":0.74},{"g":"59Mapk10","s":"C3","v":0.8},{"g":"59Mapk10","s":"H1","v":0.42},{"g":"59Mapk10","s":"H2","v":0.3},{"g":"59Mapk10","s":"H3","v":0.05},{"g":"59Mapk10","s":"B1","v":1},{"g":"59Mapk10","s":"B2","v":0.42},{"g":"59Mapk10","s":"B3","v":0.58},
{"g":"60Wfs1","s":"C1","v":0.86},{"g":"60Wfs1","s":"C2","v":1},{"g":"60Wfs1","s":"C3","v":0.88},{"g":"60Wfs1","s":"H1","v":0.05},{"g":"60Wfs1","s":"H2","v":0.48},{"g":"60Wfs1","s":"H3","v":0.25},{"g":"60Wfs1","s":"B1","v":0.42},{"g":"60Wfs1","s":"B2","v":0.66},{"g":"60Wfs1","s":"B3","v":0.77},
{"g":"61Ganc","s":"C1","v":1},{"g":"61Ganc","s":"C2","v":0.88},{"g":"61Ganc","s":"C3","v":0.8},{"g":"61Ganc","s":"H1","v":0.56},{"g":"61Ganc","s":"H2","v":0.35},{"g":"61Ganc","s":"H3","v":0.05},{"g":"61Ganc","s":"B1","v":0.87},{"g":"61Ganc","s":"B2","v":0.58},{"g":"61Ganc","s":"B3","v":0.5},
{"g":"62Hsph1","s":"C1","v":0.86},{"g":"62Hsph1","s":"C2","v":0.78},{"g":"62Hsph1","s":"C3","v":0.9},{"g":"62Hsph1","s":"H1","v":0.05},{"g":"62Hsph1","s":"H2","v":0.25},{"g":"62Hsph1","s":"H3","v":0.22},{"g":"62Hsph1","s":"B1","v":0.86},{"g":"62Hsph1","s":"B2","v":0.82},{"g":"62Hsph1","s":"B3","v":1},
{"g":"63Exosc10","s":"C1","v":0.12},{"g":"63Exosc10","s":"C2","v":0.05},{"g":"63Exosc10","s":"C3","v":0.1},{"g":"63Exosc10","s":"H1","v":0.36},{"g":"63Exosc10","s":"H2","v":0.72},{"g":"63Exosc10","s":"H3","v":1},{"g":"63Exosc10","s":"B1","v":0.15},{"g":"63Exosc10","s":"B2","v":0.22},{"g":"63Exosc10","s":"B3","v":0.25},
{"g":"64Dis3","s":"C1","v":0.05},{"g":"64Dis3","s":"C2","v":0.25},{"g":"64Dis3","s":"C3","v":0.08},{"g":"64Dis3","s":"H1","v":0.56},{"g":"64Dis3","s":"H2","v":0.88},{"g":"64Dis3","s":"H3","v":1},{"g":"64Dis3","s":"B1","v":0.42},{"g":"64Dis3","s":"B2","v":0.42},{"g":"64Dis3","s":"B3","v":0.42},
{"g":"65Nop14","s":"C1","v":0.18},{"g":"65Nop14","s":"C2","v":0.15},{"g":"65Nop14","s":"C3","v":0.05},{"g":"65Nop14","s":"H1","v":0.48},{"g":"65Nop14","s":"H2","v":1},{"g":"65Nop14","s":"H3","v":0.66},{"g":"65Nop14","s":"B1","v":0.05},{"g":"65Nop14","s":"B2","v":0.25},{"g":"65Nop14","s":"B3","v":0.3},
{"g":"66Nhp2","s":"C1","v":0.05},{"g":"66Nhp2","s":"C2","v":0.25},{"g":"66Nhp2","s":"C3","v":0.3},{"g":"66Nhp2","s":"H1","v":0.64},{"g":"66Nhp2","s":"H2","v":0.66},{"g":"66Nhp2","s":"H3","v":1},{"g":"66Nhp2","s":"B1","v":0.68},{"g":"66Nhp2","s":"B2","v":0.2},{"g":"66Nhp2","s":"B3","v":0.08},
{"g":"67Nploc4","s":"C1","v":0.1},{"g":"67Nploc4","s":"C2","v":0.08},{"g":"67Nploc4","s":"C3","v":0.1},{"g":"67Nploc4","s":"H1","v":0.56},{"g":"67Nploc4","s":"H2","v":0.76},{"g":"67Nploc4","s":"H3","v":1},{"g":"67Nploc4","s":"B1","v":0.42},{"g":"67Nploc4","s":"B2","v":0.48},{"g":"67Nploc4","s":"B3","v":0.36},
{"g":"68Sdad1","s":"C1","v":0.05},{"g":"68Sdad1","s":"C2","v":0.08},{"g":"68Sdad1","s":"C3","v":0.1},{"g":"68Sdad1","s":"H1","v":0.62},{"g":"68Sdad1","s":"H2","v":0.85},{"g":"68Sdad1","s":"H3","v":1},{"g":"68Sdad1","s":"B1","v":0.33},{"g":"68Sdad1","s":"B2","v":0.2},{"g":"68Sdad1","s":"B3","v":0.22},
{"g":"69Chac1","s":"C1","v":0.2},{"g":"69Chac1","s":"C2","v":0.2},{"g":"69Chac1","s":"C3","v":0.05},{"g":"69Chac1","s":"H1","v":0.42},{"g":"69Chac1","s":"H2","v":0.33},{"g":"69Chac1","s":"H3","v":1},{"g":"69Chac1","s":"B1","v":0.2},{"g":"69Chac1","s":"B2","v":0.22},{"g":"69Chac1","s":"B3","v":0.1},
{"g":"70Ctdsp2","s":"C1","v":0.22},{"g":"70Ctdsp2","s":"C2","v":0.1},{"g":"70Ctdsp2","s":"C3","v":0.05},{"g":"70Ctdsp2","s":"H1","v":0.35},{"g":"70Ctdsp2","s":"H2","v":0.6},{"g":"70Ctdsp2","s":"H3","v":1},{"g":"70Ctdsp2","s":"B1","v":0.25},{"g":"70Ctdsp2","s":"B2","v":0.22},{"g":"70Ctdsp2","s":"B3","v":0.32},
{"g":"71Hspa8","s":"C1","v":0.76},{"g":"71Hspa8","s":"C2","v":0.8},{"g":"71Hspa8","s":"C3","v":1},{"g":"71Hspa8","s":"H1","v":0.05},{"g":"71Hspa8","s":"H2","v":0.25},{"g":"71Hspa8","s":"H3","v":0.1},{"g":"71Hspa8","s":"B1","v":0.5},{"g":"71Hspa8","s":"B2","v":0.42},{"g":"71Hspa8","s":"B3","v":0.35},
{"g":"72Dnaja4","s":"C1","v":0.64},{"g":"72Dnaja4","s":"C2","v":0.42},{"g":"72Dnaja4","s":"C3","v":0.7},{"g":"72Dnaja4","s":"H1","v":0.2},{"g":"72Dnaja4","s":"H2","v":0.15},{"g":"72Dnaja4","s":"H3","v":0.05},{"g":"72Dnaja4","s":"B1","v":1},{"g":"72Dnaja4","s":"B2","v":0.85},{"g":"72Dnaja4","s":"B3","v":0.62},
{"g":"73Dnajb2","s":"C1","v":0.22},{"g":"73Dnajb2","s":"C2","v":0.2},{"g":"73Dnajb2","s":"C3","v":0.2},{"g":"73Dnajb2","s":"H1","v":0.12},{"g":"73Dnajb2","s":"H2","v":0.15},{"g":"73Dnajb2","s":"H3","v":0.05},{"g":"73Dnajb2","s":"B1","v":1},{"g":"73Dnajb2","s":"B2","v":0.68},{"g":"73Dnajb2","s":"B3","v":0.5},
{"g":"74Dnajb4","s":"C1","v":0.86},{"g":"74Dnajb4","s":"C2","v":0.78},{"g":"74Dnajb4","s":"C3","v":0.9},{"g":"74Dnajb4","s":"H1","v":0.05},{"g":"74Dnajb4","s":"H2","v":0.25},{"g":"74Dnajb4","s":"H3","v":0.22},{"g":"74Dnajb4","s":"B1","v":0.86},{"g":"74Dnajb4","s":"B2","v":0.8},{"g":"74Dnajb4","s":"B3","v":1},
{"g":"75Hspa4L","s":"C1","v":0.78},{"g":"75Hspa4L","s":"C2","v":0.72},{"g":"75Hspa4L","s":"C3","v":0.72},{"g":"75Hspa4L","s":"H1","v":0.15},{"g":"75Hspa4L","s":"H2","v":0.15},{"g":"75Hspa4L","s":"H3","v":0.05},{"g":"75Hspa4L","s":"B1","v":1},{"g":"75Hspa4L","s":"B2","v":0.5},{"g":"75Hspa4L","s":"B3","v":0.25},
{"g":"76Bag3","s":"C1","v":0.6},{"g":"76Bag3","s":"C2","v":0.5},{"g":"76Bag3","s":"C3","v":0.86},{"g":"76Bag3","s":"H1","v":0.08},{"g":"76Bag3","s":"H2","v":0.2},{"g":"76Bag3","s":"H3","v":0.05},{"g":"76Bag3","s":"B1","v":0.5},{"g":"76Bag3","s":"B2","v":0.42},{"g":"76Bag3","s":"B3","v":1},
{"g":"77Hspd1","s":"C1","v":0.86},{"g":"77Hspd1","s":"C2","v":1},{"g":"77Hspd1","s":"C3","v":0.86},{"g":"77Hspd1","s":"H1","v":0.05},{"g":"77Hspd1","s":"H2","v":0.48},{"g":"77Hspd1","s":"H3","v":0.25},{"g":"77Hspd1","s":"B1","v":0.42},{"g":"77Hspd1","s":"B2","v":0.66},{"g":"77Hspd1","s":"B3","v":0.78},
{"g":"78Serpinh1","s":"C1","v":1},{"g":"78Serpinh1","s":"C2","v":0.88},{"g":"78Serpinh1","s":"C3","v":0.8},{"g":"78Serpinh1","s":"H1","v":0.56},{"g":"78Serpinh1","s":"H2","v":0.35},{"g":"78Serpinh1","s":"H3","v":0.05},{"g":"78Serpinh1","s":"B1","v":0.87},{"g":"78Serpinh1","s":"B2","v":0.58},{"g":"78Serpinh1","s":"B3","v":0.5},
{"g":"79Hsph1","s":"C1","v":0.58},{"g":"79Hsph1","s":"C2","v":0.42},{"g":"79Hsph1","s":"C3","v":0.48},{"g":"79Hsph1","s":"H1","v":0.3},{"g":"79Hsph1","s":"H2","v":0.36},{"g":"79Hsph1","s":"H3","v":0.05},{"g":"79Hsph1","s":"B1","v":0.66},{"g":"79Hsph1","s":"B2","v":0.78},{"g":"79Hsph1","s":"B3","v":1},
{"g":"80Mb","s":"C1","v":0.3},{"g":"80Mb","s":"C2","v":0.35},{"g":"80Mb","s":"C3","v":0.25},{"g":"80Mb","s":"H1","v":0.22},{"g":"80Mb","s":"H2","v":0.08},{"g":"80Mb","s":"H3","v":0.05},{"g":"80Mb","s":"B1","v":0.2},{"g":"80Mb","s":"B2","v":0.3},{"g":"80Mb","s":"B3","v":1},
{"g":"81Duox1","s":"C1","v":1},{"g":"81Duox1","s":"C2","v":0.86},{"g":"81Duox1","s":"C3","v":0.78},{"g":"81Duox1","s":"H1","v":0.25},{"g":"81Duox1","s":"H2","v":0.05},{"g":"81Duox1","s":"H3","v":0.15},{"g":"81Duox1","s":"B1","v":0.5},{"g":"81Duox1","s":"B2","v":0.3},{"g":"81Duox1","s":"B3","v":0.4},
{"g":"82Xpa","s":"C1","v":0.05},{"g":"82Xpa","s":"C2","v":0.2},{"g":"82Xpa","s":"C3","v":0.12},{"g":"82Xpa","s":"H1","v":0.62},{"g":"82Xpa","s":"H2","v":1},{"g":"82Xpa","s":"H3","v":0.76},{"g":"82Xpa","s":"B1","v":0.22},{"g":"82Xpa","s":"B2","v":0.25},{"g":"82Xpa","s":"B3","v":0.3},
{"g":"83Txnrd3","s":"C1","v":0.05},{"g":"83Txnrd3","s":"C2","v":0.05},{"g":"83Txnrd3","s":"C3","v":0.05},{"g":"83Txnrd3","s":"H1","v":0.05},{"g":"83Txnrd3","s":"H2","v":0.15},{"g":"83Txnrd3","s":"H3","v":1},{"g":"83Txnrd3","s":"B1","v":0.05},{"g":"83Txnrd3","s":"B2","v":0.05},{"g":"83Txnrd3","s":"B3","v":0.05},
{"g":"84Gclm","s":"C1","v":0.05},{"g":"84Gclm","s":"C2","v":0.05},{"g":"84Gclm","s":"C3","v":0.08},{"g":"84Gclm","s":"H1","v":0.36},{"g":"84Gclm","s":"H2","v":0.9},{"g":"84Gclm","s":"H3","v":1},{"g":"84Gclm","s":"B1","v":0.3},{"g":"84Gclm","s":"B2","v":0.25},{"g":"84Gclm","s":"B3","v":0.36},
{"g":"85Nox4","s":"C1","v":0.2},{"g":"85Nox4","s":"C2","v":0.28},{"g":"85Nox4","s":"C3","v":0.05},{"g":"85Nox4","s":"H1","v":0.7},{"g":"85Nox4","s":"H2","v":1},{"g":"85Nox4","s":"H3","v":0.95},{"g":"85Nox4","s":"B1","v":0.28},{"g":"85Nox4","s":"B2","v":0.48},{"g":"85Nox4","s":"B3","v":0.42},
{"g":"86Sesn1","s":"C1","v":0.12},{"g":"86Sesn1","s":"C2","v":0.05},{"g":"86Sesn1","s":"C3","v":0.05},{"g":"86Sesn1","s":"H1","v":0.2},{"g":"86Sesn1","s":"H2","v":1},{"g":"86Sesn1","s":"H3","v":0.88},{"g":"86Sesn1","s":"B1","v":0.28},{"g":"86Sesn1","s":"B2","v":0.4},{"g":"86Sesn1","s":"B3","v":0.3}
  ]
},
"spacing": 16,
"hconcat": [
  {
    "spacing": 0,
    "resolve": {"scale": {"fill": "independent", "size": "independent", "color": "independent", "stroke": "independent"}, "legend": {"fill": "independent", "size": "independent", "color": "independent", "stroke": "independent"}},
    "vconcat": [
      {"width": 10, "height": 1, "data": {"values": []}, "mark": "point"},
      {
        "spacing": 0,
        "resolve": {"scale": {"fill": "independent", "size": "independent"}, "legend": {"fill": "independent", "size": "independent"}},
        "hconcat": [
          {"width": 1, "height": 1, "data": {"values": []}, "mark": "point"},
          {
            "title": {"text": "a", "anchor": "start", "frame": "bounds", "fontSize": 17, "fontWeight": "bold", "offset": 15, "color": "black"},
            "width": 87, "height": 245,
            "view": {"stroke": "#b5b5b5"},
            "data": {"name": "bubble"},
            "mark": {"type": "point", "filled": true, "opacity": 1, "shape": "circle"},
            "encoding": {
              "x": {"field": "dir", "type": "nominal", "scale": {"type": "point", "domain": ["Up", "Down"], "padding": 0.43},
                    "axis": {"title": "Bubble plot legend", "titleFontSize": 11, "titleFontWeight": "normal", "titleColor": "#333", "titlePadding": 8, "titleX": 50, "labelFontSize": 11, "labelColor": "#222", "labelAngle": 0, "labelPadding": 3, "ticks": true, "tickSize": 2, "tickColor": "#aaa", "domain": false, "grid": true, "gridColor": "#e4e4e4"}},
              "y": {"field": "term", "type": "nominal", "sort": null, "scale": {"type": "point", "padding": 0.4},
                    "axis": {"title": null, "labelFontSize": 10.3, "labelLimit": 400, "labelPadding": 1, "tickSize": 2, "tickColor": "#aaa", "domain": false, "grid": true, "gridColor": "#e4e4e4",
                             "labelColor": {"condition": {"test": "datum.value === 'Proteasome assembly'", "value": "#e8402a"}, "value": "#1a1a1a"},
                             "labelFontWeight": {"condition": {"test": "datum.value === 'Proteasome assembly'", "value": "bold"}, "value": "normal"}}},
              "fill": {"field": "p", "type": "quantitative", "scale": {"domain": [0.25, 3.2, 6.65], "range": ["#e8262a", "#b3168e", "#3552b5"]},
                       "legend": {"orient": "none", "legendX": -68, "legendY": 303, "direction": "horizontal", "title": "-log₁₀ (p-value)", "titleOrient": "left", "titleFontSize": 10.5, "titleFontWeight": "normal", "titleColor": "#222", "titlePadding": 5, "gradientLength": 87, "gradientThickness": 13, "gradientStrokeWidth": 0, "values": [2, 4, 6], "labelFontSize": 11, "labelColor": "#222", "labelOffset": 2}},
              "size": {"field": "fe", "type": "quantitative", "scale": {"domain": [10, 50], "range": [18, 60]},
                       "legend": {"orient": "none", "legendX": -58, "legendY": 346, "direction": "horizontal", "title": "Fold enrichment", "titleOrient": "left", "titleFontSize": 10.5, "titleFontWeight": "normal", "titleColor": "#222", "titlePadding": 1, "values": [10, 20, 30, 40, 50], "labelExpr": "''", "symbolType": "circle", "symbolFillColor": "black", "symbolStrokeColor": "black", "symbolStrokeWidth": 0, "symbolOpacity": 1, "labelOffset": 0, "columnPadding": 6}}
            }
          }
        ]
      },
      {"width": 10, "height": 103, "data": {"values": []}, "mark": "point"},
      {
        "title": {"text": "b", "anchor": "start", "frame": "group", "fontSize": 17, "fontWeight": "bold", "offset": -16, "color": "black"},
        "width": 391, "height": 99,
        "data": {"name": "venn"},
        "encoding": {"x": {"field": "set", "type": "nominal", "scale": {"type": "point", "domain": ["A", "AB", "B"], "padding": 0, "range": [212.5, 281.5]}, "axis": null}},
        "layer": [
          {"transform": [{"filter": "datum.set !== 'AB'"}],
           "mark": {"type": "point", "filled": true, "opacity": 1, "size": 4, "strokeWidth": 0, "shape": "M -47.5 0 C -47.5 -19.61 -26.23 -35.5 0 -35.5 C 26.23 -35.5 47.5 -19.61 47.5 0 C 47.5 19.61 26.23 35.5 0 35.5 C -26.23 35.5 -47.5 19.61 -47.5 0 Z"},
           "encoding": {"fill": {"field": "set", "type": "nominal", "scale": {"domain": ["A", "B", "AB"], "range": ["#ebe565", "#ec7a3d", "#b6272b"]}, "legend": null}}},
          {"transform": [{"filter": "datum.set === 'AB'"}],
           "mark": {"type": "point", "filled": true, "opacity": 1, "size": 4, "strokeWidth": 0, "shape": "M 0 -24.4 A 47.5 35.5 0 0 0 0 24.4 A 47.5 35.5 0 0 0 0 -24.4 Z"},
           "encoding": {"fill": {"field": "set", "type": "nominal", "scale": {"domain": ["A", "B", "AB"], "range": ["#ebe565", "#ec7a3d", "#b6272b"]}, "legend": null}}},
          {"transform": [{"filter": "datum.set === 'AB'"}],
           "mark": {"type": "point", "filled": false, "opacity": 1, "size": 4, "stroke": "#808080", "strokeWidth": 1, "shape": "M 0 24.4 L 0 42 M -2.2 38 L 0 42 L 2.2 38"}},
          {"transform": [{"filter": "datum.set === 'A'"}],
           "mark": {"type": "text", "dx": -10, "fontSize": 15, "fontWeight": "bold", "color": "#2b1c12"},
           "encoding": {"text": {"field": "n", "type": "quantitative"}}},
          {"transform": [{"filter": "datum.set === 'B'"}],
           "mark": {"type": "text", "dx": 6, "fontSize": 15, "fontWeight": "bold", "color": "#2b1c12"},
           "encoding": {"text": {"field": "n", "type": "quantitative"}}},
          {"transform": [{"filter": "datum.set === 'AB'"}],
           "mark": {"type": "text", "dx": -2, "fontSize": 15, "fontWeight": "bold", "color": "white"},
           "encoding": {"text": {"field": "n", "type": "quantitative"}}},
          {"transform": [{"filter": "datum.set === 'A'"}],
           "mark": {"type": "text", "align": "right", "dx": 13.5, "dy": -42.5, "fontSize": 14, "fontWeight": "bold", "color": "#3b2a1e"},
           "encoding": {"text": {"field": "name", "type": "nominal"}}},
          {"transform": [{"filter": "datum.set === 'B'"}],
           "mark": {"type": "text", "align": "left", "dx": -23.5, "dy": -42.5, "fontSize": 14, "fontWeight": "bold", "color": "#3b2a1e"},
           "encoding": {"text": {"field": "name", "type": "nominal"}}}
        ]
      },
      {
        "spacing": 0,
        "hconcat": [
          {"width": 43, "height": 1, "data": {"values": []}, "mark": "point"},
          {
            "width": 98, "height": 96,
            "data": {"name": "bars"},
            "mark": {"type": "bar"},
            "encoding": {
              "y": {"field": "cat", "type": "nominal", "sort": null, "scale": {"paddingInner": 0.29, "paddingOuter": 0.2},
                    "axis": {"title": null, "labelFontSize": 13.7, "labelFontWeight": "bold", "labelColor": "#111", "labelPadding": 6, "ticks": false, "domain": true, "domainColor": "#888", "labelLimit": 300}},
              "x": {"field": "n", "type": "quantitative", "scale": {"domain": [0, 40]},
                    "axis": {"orient": "top", "title": "Numbers of genes", "titleFontSize": 13, "titleFontWeight": "normal", "titleColor": "#222", "titlePadding": 3, "values": [0, 10, 20, 30, 40], "labelFontSize": 12.5, "labelColor": "#222", "labelPadding": 2, "ticks": false, "grid": false, "domainColor": "#888", "labelFlush": false}},
              "fill": {"field": "cat", "type": "nominal", "sort": null, "scale": {"domain": ["Autophagy", "Ubiquitin-proteasome system", "Unfolded-protein response", "Heat shock response", "Antioxidant genes"], "range": ["#f3bb22", "#ec5a2f", "#c4203b", "#8e1c4a", "#5a1a4a"]}, "legend": null}
            }
          }
        ]
      }
    ]
  },
  {
    "spacing": 0,
    "vconcat": [
      {"width": 10, "height": 1, "data": {"values": []}, "mark": "point"},
      {
        "spacing": 0,
        "resolve": {"scale": {"y": "shared"}, "axis": {"y": "independent"}},
        "hconcat": [
          {
            "title": {"text": "c", "anchor": "end", "frame": "group", "fontSize": 17, "fontWeight": "bold", "offset": 1.5, "color": "black"},
            "width": 7, "height": 905,
            "data": {"name": "genes"},
            "mark": {"type": "rule", "strokeWidth": 7},
            "encoding": {
              "y": {"field": "g", "type": "nominal", "bandPosition": 0, "axis": null, "scale": {"type": "band", "paddingInner": 0, "paddingOuter": 0}},
              "y2": {"field": "g", "bandPosition": 1},
              "stroke": {"field": "grp", "type": "nominal", "scale": {"domain": ["Autophagy", "UPS", "UPR", "Heat shock", "Antioxidant"], "range": ["#f2b81e", "#ee5a2a", "#c51f3a", "#8e1c4b", "#5b1a48"]}, "legend": null}
            }
          },
          {
            "width": 315, "height": 905,
            "resolve": {"scale": {"x": "independent"}, "axis": {"x": "independent"}},
            "layer": [
              {
                "data": {"name": "cells"},
                "mark": {"type": "rect"},
                "encoding": {
                  "x": {"field": "s", "type": "nominal", "scale": {"domain": ["C1", "C2", "C3", "H1", "H2", "H3", "B1", "B2", "B3"], "paddingInner": 0, "paddingOuter": 0}, "axis": null},
                  "y": {"field": "g", "type": "nominal", "scale": {"type": "band", "paddingInner": 0, "paddingOuter": 0},
                        "axis": {"orient": "right", "title": null, "labelExpr": "substring(datum.label, 2)", "labelFontSize": 10.3, "labelFontStyle": "italic", "labelPadding": 2, "ticks": false, "domain": false, "labelLimit": 100, "labelBaseline": "middle",
                                 "labelColor": {"condition": {"test": "indexof(['15','16','21','24','27','30','51','67','69','71','77','86'], substring(datum.value, 0, 2)) >= 0", "value": "#e8392a"}, "value": "#111111"}}},
                  "color": {"field": "v", "type": "quantitative", "scale": {"domain": [0, 0.25, 0.5, 0.75, 1], "range": ["#3a4ca5", "#7b98cf", "#dddddd", "#eb8f73", "#a81b28"]},
                            "legend": {"orient": "none", "legendX": 146, "legendY": 823, "direction": "horizontal", "title": "Normalized expression", "titleOrient": "left", "titleFontSize": 11, "titleFontWeight": "normal", "titleColor": "#222", "titlePadding": 9, "gradientLength": 86, "gradientThickness": 12, "gradientStrokeWidth": 0, "values": [0, 0.5, 1], "labelExpr": "datum.value === 0 ? '0' : format(datum.value, '.1f')", "labelFontSize": 12, "labelColor": "#222", "labelOffset": 2}}
                }
              },
              {
                "data": {"name": "annot"},
                "mark": {"type": "rect", "stroke": "black"},
                "encoding": {
                  "x": {"field": "cond", "type": "nominal", "scale": {"domain": ["Control", "HU", "HU+3HB"], "paddingInner": 0, "paddingOuter": 0}, "axis": null},
                  "y": {"field": "g", "type": "nominal"},
                  "fill": {"field": "cond", "type": "nominal", "scale": {"domain": ["Control", "HU", "HU+3HB"], "range": ["#ffffff", "#111111", "#707070"]},
                           "legend": {"orient": "none", "legendX": 214, "legendY": 769, "direction": "horizontal", "title": "Heatmap legend", "titleAnchor": "end", "titleFontSize": 10, "titleFontWeight": "normal", "titleColor": "#222", "titlePadding": 17, "labelFontSize": 10.1, "labelColor": "#222", "symbolType": "square", "symbolSize": 100, "symbolStrokeColor": "#333", "symbolStrokeWidth": 1.2, "labelOffset": 5, "columnPadding": 0}},
                  "strokeWidth": {"condition": {"test": "datum.cond === 'Control'", "value": 2.5}, "value": 0}
                }
              }
            ]
          }
        ]
      }
    ]
  }
]
}
